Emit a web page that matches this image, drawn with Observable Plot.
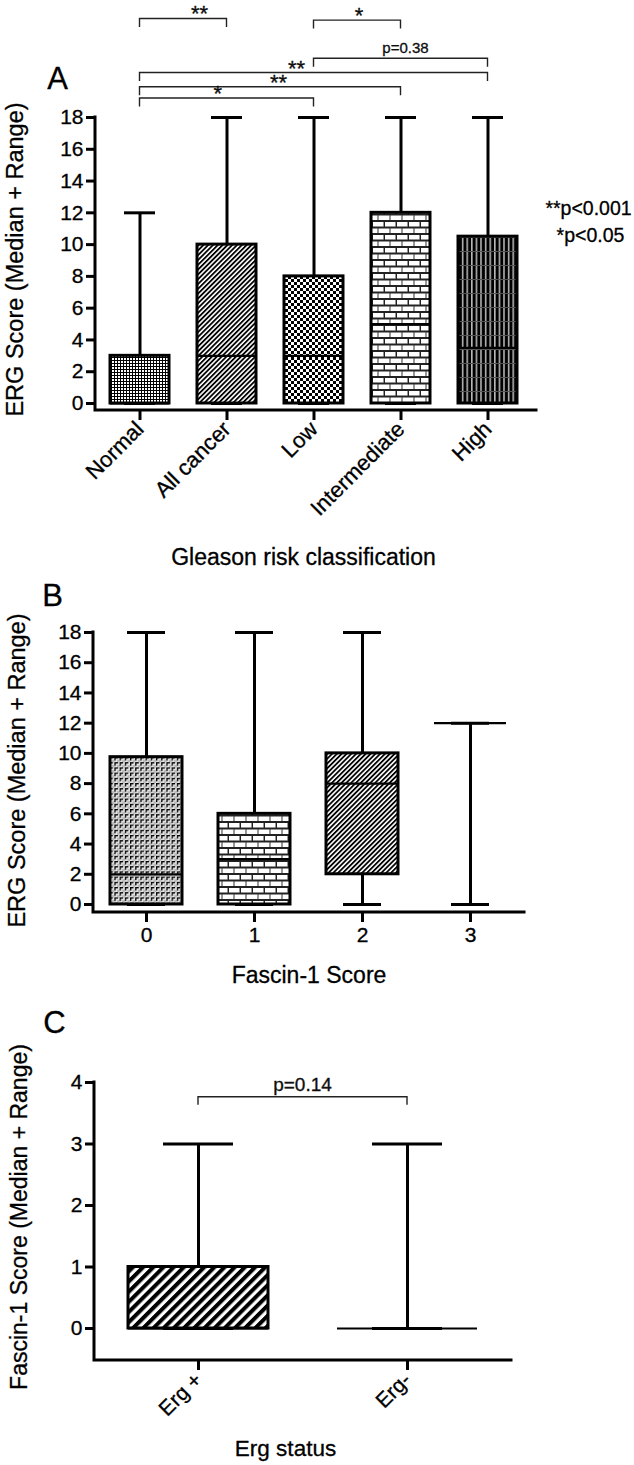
<!DOCTYPE html>
<html>
<head>
<meta charset="utf-8">
<script src="https://cdn.jsdelivr.net/npm/d3@7"></script>
<script src="https://cdn.jsdelivr.net/npm/@observablehq/plot@0.6"></script>
<style>
  html, body { margin: 0; padding: 0; background: #fff; }
  #wrap { position: relative; width: 634px; height: 1465px; overflow: hidden; }
  #wrap > svg.panel { position: absolute; left: 0; }
  #wrap > svg.panel text { stroke: #000; stroke-width: 0.3px; }
</style>
</head>
<body>
<svg width="0" height="0" style="position:absolute;left:0;top:0">
  <defs>
    <pattern id="pNormal" patternUnits="userSpaceOnUse" width="3" height="3">
      <rect width="3" height="3" fill="#000"/>
      <rect x="1" y="1" width="2" height="2" fill="#fff"/>
    </pattern>
    <pattern id="pDiag" patternUnits="userSpaceOnUse" width="3.4" height="10" patternTransform="rotate(45)">
      <rect width="3.4" height="10" fill="#fff"/>
      <rect width="1.8" height="10" fill="#000"/>
    </pattern>
    <pattern id="pDiagWide" patternUnits="userSpaceOnUse" width="7.2" height="10" patternTransform="rotate(45)">
      <rect width="7.2" height="10" fill="#fff"/>
      <rect width="4" height="10" fill="#000"/>
    </pattern>
    <pattern id="pChecker" patternUnits="userSpaceOnUse" width="6" height="6">
      <rect width="6" height="6" fill="#fff"/>
      <rect width="3" height="3" fill="#000"/>
      <rect x="3" y="3" width="3" height="3" fill="#000"/>
    </pattern>
    <pattern id="pBrick" patternUnits="userSpaceOnUse" width="12" height="13">
      <rect width="12" height="13" fill="#222"/>
      <rect x="1" y="1" width="10.5" height="4.5" fill="#fff"/>
      <rect x="-5" y="7.5" width="10.5" height="4.5" fill="#fff"/>
      <rect x="7" y="7.5" width="10.5" height="4.5" fill="#fff"/>
      <rect x="11.5" y="1" width="0.5" height="4.5" fill="#999"/>
      <rect x="5.5" y="7.5" width="1.5" height="4.5" fill="#999"/>
    </pattern>
    <pattern id="pVert" patternUnits="userSpaceOnUse" width="4.6" height="14">
      <rect width="4.6" height="14" fill="#000"/>
      <rect x="2" width="1.3" height="14" fill="#ddd"/>
      <rect y="13" width="4.6" height="1" fill="#555"/>
    </pattern>
    <pattern id="pFine" patternUnits="userSpaceOnUse" width="5.2" height="5.2">
      <rect width="5.2" height="5.2" fill="#e6e6e6"/>
      <rect width="3.6" height="1.3" fill="#000"/>
      <rect width="1.3" height="3.6" fill="#000"/>
      <rect x="2.6" y="2.6" width="2.6" height="2.6" fill="#bbb"/>
    </pattern>
  </defs>
</svg>
<div id="wrap"></div>
<script>
// ---------------- DATA ----------------
// Panel A: ERG score by Gleason risk classification
const gleasonCats = ["Normal", "All cancer", "Low", "Intermediate", "High"];
const gleasonMin = [0, 0, 0, 0, 0];
const gleasonQ1 = [0, 0, 0, 0, 0];
const gleasonMedian = [0, 3, 3, 5, 3.5];
const gleasonQ3 = [3, 10, 8, 12, 10.5];
const gleasonMax = [12, 18, 18, 18, 18];
const gleasonPatterns = ["url(#pNormal)", "url(#pDiag)", "url(#pChecker)", "url(#pBrick)", "url(#pVert)"];
const ergTicks = [0, 2, 4, 6, 8, 10, 12, 14, 16, 18];
const gleasonBrackets = [
  {from: "Normal", to: "All cancer", level: 24.2, label: "**"},
  {from: "Low", to: "Intermediate", level: 24.1, label: "*"},
  {from: "Low", to: "High", level: 21.7, label: "p=0.38"},
  {from: "Normal", to: "High", level: 20.8, label: "**"},
  {from: "Normal", to: "Intermediate", level: 19.9, label: "**"},
  {from: "Normal", to: "Low", level: 19.2, label: "*"}
];
const gleasonNotes = ["**p<0.001", "*p<0.05"];

// Panel B: ERG score by Fascin-1 score
const fascinCats = ["0", "1", "2", "3"];
const fascinMin = [0, 0, 0, 0];
const fascinQ1 = [0, 0, 2, 12];
const fascinMedian = [2, 3, 8, 12];
const fascinQ3 = [9.75, 6, 10, 12];
const fascinMax = [18, 18, 18, 12];
const fascinPatterns = ["url(#pFine)", "url(#pBrick)", "url(#pDiag)", "none"];

// Panel C: Fascin-1 score by Erg status
const ergCats = ["Erg +", "Erg-"];
const ergMin = [0, 0];
const ergQ1 = [0, 0];
const ergMedian = [0, 0];
const ergQ3 = [1, 0];
const ergMax = [3, 3];
const ergPatterns = ["url(#pDiagWide)", "none"];
const fascinTicks = [0, 1, 2, 3, 4];
const ergBrackets = [{from: "Erg +", to: "Erg-", level: 3.76, label: "p=0.14"}];

// ---------------- HELPERS ----------------
const FONT = "'Liberation Sans', Arial, Helvetica, sans-serif";

function rows(cats, mn, q1, med, q3, mx, pat) {
  return cats.map((c, i) => ({cat: c, min: mn[i], q1: q1[i], median: med[i], q3: q3[i], max: mx[i], pattern: pat[i]}));
}

function axisLines(index, scales, values, d) {
  const l = d.marginLeft, t = d.marginTop, b = d.height - d.marginBottom, r = d.width - d.marginRight;
  const g = d3.create("svg:g");
  g.append("path")
    .attr("d", `M${l},${t}V${b}H${r}`)
    .attr("fill", "none").attr("stroke", "#000").attr("stroke-width", 3)
    .attr("stroke-linecap", "square");
  return g.node();
}

// label shifts (px) reproduce the off-centre placement of the significance marks
function bracketMark(list, {drop = 8.5, starSize = 22, pSize = 15, sw = 1.4, labelShift = []} = {}) {
  return (index, scales) => {
    const x = scales.x, y = scales.y;
    const off = x.bandwidth ? x.bandwidth() / 2 : 0;
    const g = d3.create("svg:g").attr("font-family", FONT);
    list.forEach((b, i) => {
      const x1 = x(b.from) + off, x2 = x(b.to) + off, yy = y(b.level);
      g.append("path")
        .attr("d", `M${x1},${yy + drop}V${yy}H${x2}V${yy + drop}`)
        .attr("fill", "none").attr("stroke", "#222").attr("stroke-width", sw);
      const isP = b.label.startsWith("p");
      g.append("text")
        .attr("x", (x1 + x2) / 2 + (labelShift[i] || 0))
        .attr("y", yy + (isP ? -5.5 : 3))
        .attr("text-anchor", "middle")
        .attr("font-size", isP ? pSize : starSize)
        .attr("fill", "#111")
        .text(b.label);
    });
    return g.node();
  };
}

function boxMarks(data, capInset) {
  return [
    Plot.ruleX(data, {x: "cat", y1: "min", y2: "max", stroke: "#000", strokeWidth: 3}),
    Plot.tickY(data, {x: "cat", y: "max", stroke: "#000", strokeWidth: 3, inset: capInset}),
    Plot.tickY(data, {x: "cat", y: "min", stroke: "#000", strokeWidth: 3, inset: capInset}),
    Plot.barY(data, {x: "cat", y1: "q1", y2: "q3", fill: "pattern", stroke: "#000", strokeWidth: 3}),
    Plot.tickY(data, {x: "cat", y: "median", stroke: "#000", strokeWidth: 2.2})
  ];
}

const wrap = document.getElementById("wrap");
function place(svg, top) {
  svg.classList.add("panel");
  svg.style.top = top + "px";
  wrap.appendChild(svg);
}

// ---------------- PANEL A ----------------
const dataA = rows(gleasonCats, gleasonMin, gleasonQ1, gleasonMedian, gleasonQ3, gleasonMax, gleasonPatterns);
const plotA = Plot.plot({
  width: 634, height: 575,
  marginTop: 117, marginBottom: 165, marginLeft: 95, marginRight: 98,
  style: {fontFamily: FONT, background: "transparent", overflow: "visible", color: "#000"},
  x: {type: "band", domain: gleasonCats, range: [95, 532], paddingInner: 0.318, paddingOuter: 0.142, axis: null},
  y: {domain: [0, 18], range: [403, 117], axis: null},
  color: {type: "identity"},
  marks: [
    ...boxMarks(dataA, 14),
    Plot.axisY({ticks: ergTicks, tickFormat: d => String(d), tickSize: 9, tickPadding: 3, strokeWidth: 3, fontSize: 21, label: null}),
    Plot.axisX({tickSize: 10, tickPadding: 5, tickRotate: -45, strokeWidth: 3, fontSize: 22, label: null}),
    axisLines,
    bracketMark(gleasonBrackets, {labelShift: [16.5, 2, 5, -17, 8.5, -8.6]}),
    Plot.text(["ERG Score (Median + Range)"], {text: d => d, frameAnchor: "left", rotate: -90, dx: -80, dy: -4.5, fontSize: 23.5, textAnchor: "middle", lineAnchor: "middle"}),
    Plot.text(["Gleason risk classification"], {text: d => d, frameAnchor: "bottom", dx: -12.5, dy: 147, fontSize: 23, textAnchor: "middle", lineAnchor: "middle"}),
    Plot.text([gleasonNotes[0]], {text: d => d, frameAnchor: "right", dx: 52, dy: -55.5, fontSize: 19.5, textAnchor: "middle", lineAnchor: "middle"}),
    Plot.text([gleasonNotes[1]], {text: d => d, frameAnchor: "right", dx: 54, dy: -28.5, fontSize: 19.5, textAnchor: "middle", lineAnchor: "middle"}),
    Plot.text(["A"], {text: d => d, frameAnchor: "top-left", dx: -38, dy: -38, fontSize: 31, textAnchor: "middle", lineAnchor: "middle"})
  ]
});
place(plotA, 0);

// ---------------- PANEL B ----------------
const dataB = rows(fascinCats, fascinMin, fascinQ1, fascinMedian, fascinQ3, fascinMax, fascinPatterns);
const plotB = Plot.plot({
  width: 634, height: 415,
  marginTop: 57, marginBottom: 78, marginLeft: 93, marginRight: 110,
  style: {fontFamily: FONT, background: "transparent", overflow: "visible", color: "#000"},
  x: {type: "band", domain: fascinCats, range: [93, 523], paddingInner: 0.333, paddingOuter: 0.157, axis: null},
  y: {domain: [0, 18], range: [329, 57], axis: null},
  color: {type: "identity"},
  marks: [
    ...boxMarks(dataB, 17),
    Plot.axisY({ticks: ergTicks, tickFormat: d => String(d), tickSize: 9, tickPadding: 3, strokeWidth: 3, fontSize: 21, label: null}),
    Plot.axisX({tickSize: 10, tickPadding: 5, strokeWidth: 3, fontSize: 21, label: null}),
    axisLines,
    Plot.text(["ERG Score (Median + Range)"], {text: d => d, frameAnchor: "left", rotate: -90, dx: -76, dy: -2, fontSize: 23.5, textAnchor: "middle", lineAnchor: "middle"}),
    Plot.text(["Fascin-1 Score"], {text: d => d, frameAnchor: "bottom", dx: 0, dy: 63, fontSize: 23, textAnchor: "middle", lineAnchor: "middle"}),
    Plot.text(["B"], {text: d => d, frameAnchor: "top-left", dx: -41, dy: -36, fontSize: 31, textAnchor: "middle", lineAnchor: "middle"})
  ]
});
place(plotB, 575);

// ---------------- PANEL C ----------------
const dataC = rows(ergCats, ergMin, ergQ1, ergMedian, ergQ3, ergMax, ergPatterns);
const plotC = Plot.plot({
  width: 634, height: 475,
  marginTop: 92, marginBottom: 105, marginLeft: 94, marginRight: 123,
  style: {fontFamily: FONT, background: "transparent", overflow: "visible", color: "#000"},
  x: {type: "band", domain: ergCats, range: [94, 511], paddingInner: 0.332, paddingOuter: 0.162, axis: null},
  y: {domain: [0, 4], range: [338, 92], axis: null},
  color: {type: "identity"},
  marks: [
    ...boxMarks(dataC, 35),
    Plot.axisY({ticks: fascinTicks, tickFormat: d => String(d), tickSize: 9, tickPadding: 3, strokeWidth: 3, fontSize: 21, label: null}),
    Plot.axisX({tickSize: 10, tickPadding: 6, tickRotate: -45, strokeWidth: 3, fontSize: 21, label: null}),
    axisLines,
    bracketMark(ergBrackets, {drop: 8, pSize: 19}),
    Plot.text(["Fascin-1 Score (Median + Range)"], {text: d => d, frameAnchor: "left", rotate: -90, dx: -75, dy: -4.5, fontSize: 23, textAnchor: "middle", lineAnchor: "middle"}),
    Plot.text(["Erg status"], {text: d => d, frameAnchor: "bottom", dx: -17.5, dy: 88, fontSize: 22.5, textAnchor: "middle", lineAnchor: "middle"}),
    Plot.text(["C"], {text: d => d, frameAnchor: "top-left", dx: -40, dy: -59, fontSize: 31, textAnchor: "middle", lineAnchor: "middle"})
  ]
});
place(plotC, 990);
</script>
</body>
</html>
